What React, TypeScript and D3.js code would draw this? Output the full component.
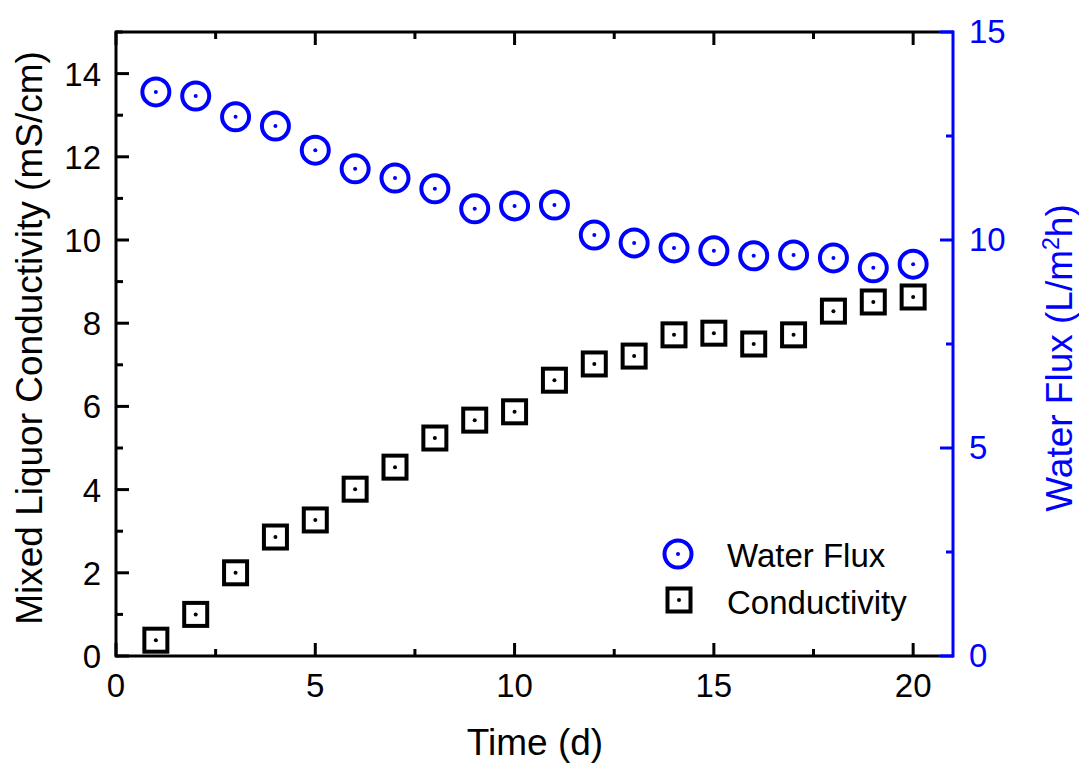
import React from "react";
import * as d3 from "d3";

const days = [1, 2, 3, 4, 5, 6, 7, 8, 9, 10, 11, 12, 13, 14, 15, 16, 17, 18, 19, 20];
const waterFlux = [13.56, 13.46, 12.96, 12.74, 12.16, 11.71, 11.49, 11.23, 10.75, 10.82, 10.84, 10.12, 9.93, 9.81, 9.74, 9.62, 9.64, 9.57, 9.33, 9.42];
const conductivity = [0.38, 1.0, 2.0, 2.86, 3.27, 4.01, 4.54, 5.24, 5.67, 5.87, 6.63, 7.02, 7.21, 7.72, 7.76, 7.5, 7.72, 8.29, 8.51, 8.63];

const xTicks = [0, 5, 10, 15, 20];
const xMinor = [2.5, 7.5, 12.5, 17.5];
const leftTicks = [0, 2, 4, 6, 8, 10, 12, 14];
const leftMinor = [1, 3, 5, 7, 9, 11, 13, 15];
const rightTicks = [0, 5, 10, 15];
const rightMinor = [2.5, 7.5, 12.5];

const BLUE = "#0000ff";
const FONT = "'Liberation Sans', Arial, sans-serif";

const W = 1079;
const H = 765;
const left = 116;
const right = 953;
const top = 32;
const bottom = 656;
const MAJ = 13;
const MIN = 7;

export default function App() {
  const x = d3.scaleLinear().domain([0, 21]).range([left, right]);
  const yL = d3.scaleLinear().domain([0, 15]).range([bottom, top]);
  const yR = d3.scaleLinear().domain([0, 15]).range([bottom, top]);

  return (
    <svg width={W} height={H} style={{ position: "absolute", left: 0, top: 0, background: "#fff" }} fontFamily={FONT}>
      {/* x ticks, bottom and top */}
      {xTicks.map((t) => (
        <g key={"x" + t}>
          <line x1={x(t)} x2={x(t)} y1={bottom} y2={bottom - MAJ} stroke="#000" strokeWidth={3} />
          <line x1={x(t)} x2={x(t)} y1={top} y2={top + MAJ} stroke="#000" strokeWidth={3} />
          <text x={x(t)} y={697} fontSize={33} textAnchor="middle">{t}</text>
        </g>
      ))}
      {xMinor.map((t) => (
        <g key={"xm" + t}>
          <line x1={x(t)} x2={x(t)} y1={bottom} y2={bottom - MIN} stroke="#000" strokeWidth={3} />
          <line x1={x(t)} x2={x(t)} y1={top} y2={top + MIN} stroke="#000" strokeWidth={3} />
        </g>
      ))}
      {/* left ticks */}
      {leftTicks.map((t) => (
        <g key={"l" + t}>
          <line x1={left} x2={left + MAJ} y1={yL(t)} y2={yL(t)} stroke="#000" strokeWidth={3} />
          <text x={101} y={yL(t) + 12} fontSize={33} textAnchor="end">{t}</text>
        </g>
      ))}
      {leftMinor.map((t) => (
        <line key={"lm" + t} x1={left} x2={left + MIN} y1={yL(t)} y2={yL(t)} stroke="#000" strokeWidth={3} />
      ))}
      {/* right ticks */}
      {rightTicks.map((t) => (
        <g key={"r" + t}>
          <line x1={right} x2={right - MAJ} y1={yR(t)} y2={yR(t)} stroke={BLUE} strokeWidth={3} />
          <text x={969} y={yR(t) + 11} fontSize={33} fill={BLUE}>{t}</text>
        </g>
      ))}
      {rightMinor.map((t) => (
        <line key={"rm" + t} x1={right} x2={right - MIN} y1={yR(t)} y2={yR(t)} stroke={BLUE} strokeWidth={3} />
      ))}

      {/* frame */}
      <line x1={left} x2={right - 14} y1={top} y2={top} stroke="#000" strokeWidth={3} />
      <line x1={left} x2={right - 14} y1={bottom} y2={bottom} stroke="#000" strokeWidth={3} />
      <line x1={right - 14} x2={right} y1={top} y2={top} stroke={BLUE} strokeWidth={3} />
      <line x1={right - 14} x2={right} y1={bottom} y2={bottom} stroke={BLUE} strokeWidth={3} />
      <line x1={left} x2={left} y1={top - 1.5} y2={bottom + 1.5} stroke="#000" strokeWidth={3} />
      <line x1={right} x2={right} y1={top - 1.5} y2={bottom + 1.5} stroke={BLUE} strokeWidth={3} />

      {/* axis titles */}
      <text x={535} y={755} fontSize={37} textAnchor="middle">Time (d)</text>
      <text transform={`translate(42,338) rotate(-90)`} fontSize={37} textAnchor="middle">
        Mixed Liquor Conductivity (mS/cm)
      </text>
      <text transform={`translate(1072,358) rotate(-90)`} fontSize={37} textAnchor="middle" fill={BLUE}>
        Water Flux (L/m<tspan dy={-13} fontSize={23}>2</tspan><tspan dy={13}>h)</tspan>
      </text>

      {/* water flux points */}
      {days.map((d, i) => (
        <g key={"w" + d}>
          <circle cx={x(d)} cy={yR(waterFlux[i])} r={13.5} fill="none" stroke={BLUE} strokeWidth={4} />
          <circle cx={x(d)} cy={yR(waterFlux[i])} r={2} fill={BLUE} />
        </g>
      ))}
      {/* conductivity points */}
      {days.map((d, i) => (
        <g key={"c" + d}>
          <rect x={x(d) - 11.5} y={yL(conductivity[i]) - 11.5} width={23} height={23} fill="none" stroke="#000" strokeWidth={4} />
          <circle cx={x(d)} cy={yL(conductivity[i])} r={2} fill="#000" />
        </g>
      ))}

      {/* legend */}
      <circle cx={678} cy={554} r={13.5} fill="none" stroke={BLUE} strokeWidth={4} />
      <circle cx={678} cy={554} r={2} fill={BLUE} />
      <text x={727} y={567} fontSize={33}>Water Flux</text>
      <rect x={679 - 11.5} y={600 - 11.5} width={23} height={23} fill="none" stroke="#000" strokeWidth={4} />
      <circle cx={679} cy={600} r={2} fill="#000" />
      <text x={727} y={614} fontSize={33}>Conductivity</text>
    </svg>
  );
}
